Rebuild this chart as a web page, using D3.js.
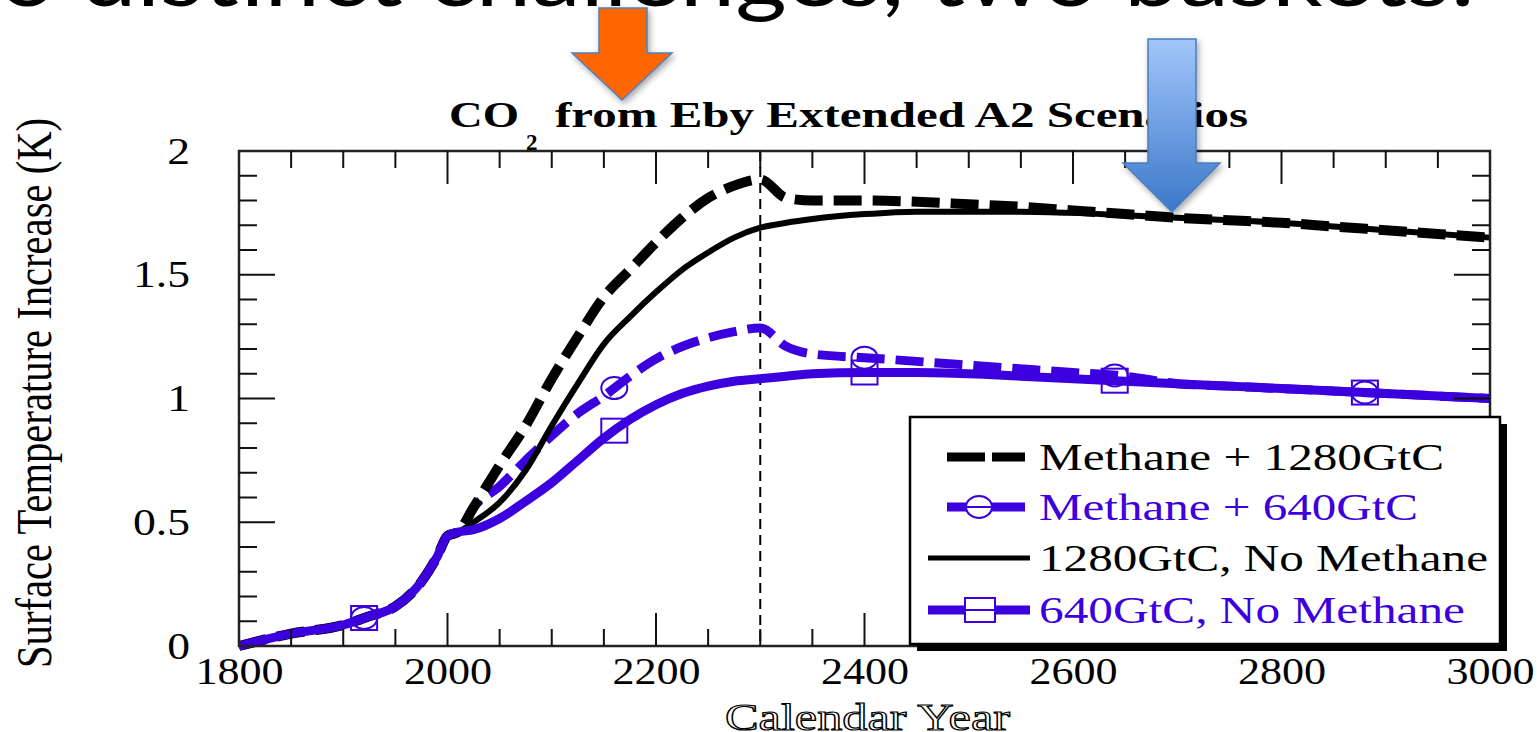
<!DOCTYPE html>
<html>
<head>
<meta charset="utf-8">
<script src="https://cdn.jsdelivr.net/npm/d3@7"></script>
<style>
  body { margin: 0; background: #fff; overflow: hidden; }
  svg { display: block; }
</style>
</head>
<body>
<div id="chart"></div>
<script>
// sampled years (shared by all four runs)
var years = [1800, 1850, 1900, 1925, 1950, 1975, 1990, 2000, 2010, 2025, 2050, 2075,
  2100, 2125, 2150, 2175, 2200, 2225, 2250, 2275, 2300, 2325, 2350, 2400, 2450,
  2500, 2550, 2600, 2650, 2700, 2750, 2800, 2850, 2900, 2950, 3000]

var methane1280 = [0, 0.05, 0.085, 0.12, 0.16, 0.26, 0.36, 0.445, 0.46, 0.56, 0.73, 0.89,
  1.08, 1.25, 1.41, 1.52, 1.63, 1.73, 1.81, 1.86, 1.885, 1.81, 1.80, 1.80, 1.795,
  1.785, 1.775, 1.76, 1.745, 1.73, 1.72, 1.71, 1.695, 1.68, 1.665, 1.65]

var methane640 = [0, 0.05, 0.085, 0.12, 0.16, 0.26, 0.36, 0.445, 0.46, 0.56, 0.645, 0.75,
  0.85, 0.94, 1.01, 1.09, 1.16, 1.21, 1.245, 1.27, 1.285, 1.21, 1.18, 1.165, 1.15,
  1.135, 1.12, 1.105, 1.09, 1.06, 1.05, 1.04, 1.03, 1.02, 1.01, 1.0]

var noMethane1280 = [0, 0.05, 0.085, 0.12, 0.16, 0.26, 0.36, 0.445, 0.46, 0.5, 0.58, 0.71,
  0.89, 1.06, 1.22, 1.33, 1.43, 1.52, 1.59, 1.65, 1.69, 1.71, 1.725, 1.745, 1.755,
  1.755, 1.755, 1.75, 1.74, 1.73, 1.72, 1.71, 1.695, 1.68, 1.665, 1.65]

var noMethane640 = [0, 0.05, 0.085, 0.12, 0.16, 0.26, 0.36, 0.445, 0.46, 0.47, 0.515, 0.585,
  0.66, 0.75, 0.84, 0.915, 0.975, 1.02, 1.05, 1.07, 1.08, 1.09, 1.10, 1.105, 1.105,
  1.10, 1.09, 1.08, 1.07, 1.06, 1.05, 1.04, 1.03, 1.02, 1.01, 1.0]

var markerYears = [1920, 2160, 2400, 2640, 2880]
var xLabels = [1800, 2000, 2200, 2400, 2600, 2800, 3000]
var yLabels = [0, 0.5, 1, 1.5, 2]
var legendNames = ['Methane + 1280GtC', 'Methane + 640GtC', '1280GtC, No Methane', '640GtC, No Methane']

var purple = 'rgb(60, 0, 222)'
var serif = '"Liberation Serif", "Times New Roman", serif'

var w = 1538
var h = 732

var svg = d3.select('#chart')
  .append('svg')
  .attr('width', w)
  .attr('height', h)

var defs = svg.append('defs')
var shadow = defs.append('filter').attr('id', 'shadow')
  .attr('x', '-30%').attr('y', '-30%').attr('width', '160%').attr('height', '160%')
shadow.append('feDropShadow').attr('dx', 2).attr('dy', 3).attr('stdDeviation', 3)
  .attr('flood-color', '#000').attr('flood-opacity', 0.35)
var blueGrad = defs.append('linearGradient').attr('id', 'blueGrad')
  .attr('x1', 0).attr('y1', 0).attr('x2', 0).attr('y2', 1)
blueGrad.append('stop').attr('offset', '0%').attr('stop-color', '#a3c6fb')
blueGrad.append('stop').attr('offset', '100%').attr('stop-color', '#3b78c9')

var x = d3.scaleLinear().domain([1800, 3000]).range([239, 1490])
var y = d3.scaleLinear().domain([0, 2]).range([646, 151])

// stretch text horizontally, like the squashed bitmap in the slide
function stretch (sel, k) {
  sel.each(function () {
    var len = this.getComputedTextLength()
    d3.select(this).attr('textLength', len * k).attr('lengthAdjust', 'spacingAndGlyphs')
  })
}

// slide heading, cut off at the top
svg.append('text')
  .attr('x', -128)
  .attr('y', 6)
  .attr('font-family', 'Lato, "Open Sans", sans-serif')
  .attr('font-size', 86)
  .attr('fill', '#000')
  .attr('textLength', 1603)
  .attr('lengthAdjust', 'spacingAndGlyphs')
  .text('Two distinct challenges, two baskets:')

// title
var title = svg.append('g')
  .attr('font-family', serif)
  .attr('font-weight', 'bold')
  .attr('fill', '#000')
title.append('text').attr('x', 449).attr('y', 127).attr('font-size', 35)
  .attr('textLength', 70).attr('lengthAdjust', 'spacingAndGlyphs').text('CO')
title.append('text').attr('x', 526).attr('y', 150).attr('font-size', 23).text('2')
title.append('text').attr('x', 555).attr('y', 127).attr('font-size', 35)
  .attr('textLength', 693).attr('lengthAdjust', 'spacingAndGlyphs')
  .text('from Eby Extended A2 Scenarios')

var plot = svg.append('g')

// vertical marker at 2300
plot.append('line')
  .attr('x1', x(2300)).attr('x2', x(2300))
  .attr('y1', y(2)).attr('y2', y(0))
  .attr('stroke', '#000')
  .attr('stroke-width', 2)
  .attr('stroke-dasharray', '10,6')

var line = d3.line()
  .x(function (d) { return x(d[0]) })
  .y(function (d) { return y(d[1]) })
  .curve(d3.curveMonotoneX)

function pairs (vals) {
  return years.map(function (yr, i) { return [yr, vals[i]] })
}

function valueAt (vals, yr) {
  var i = d3.bisectRight(years, yr) - 1
  if (i >= years.length - 1) return vals[vals.length - 1]
  var t = (yr - years[i]) / (years[i + 1] - years[i])
  return vals[i] + t * (vals[i + 1] - vals[i])
}

var series = [
  { vals: methane640, color: purple, width: 9, dash: '28,11' },
  { vals: methane1280, color: '#000', width: 10, dash: '28,11' },
  { vals: noMethane1280, color: '#000', width: 6, dash: null },
  { vals: noMethane640, color: purple, width: 9, dash: null }
]

series.forEach(function (s) {
  plot.append('path')
    .attr('d', line(pairs(s.vals)))
    .attr('fill', 'none')
    .attr('stroke', s.color)
    .attr('stroke-width', s.width)
    .attr('stroke-dasharray', s.dash)
})

// markers: circles on methane + 640, squares on 640 no methane
plot.selectAll('.circ')
  .data(markerYears)
  .enter()
  .append('ellipse')
  .attr('cx', function (d) { return x(d) })
  .attr('cy', function (d) { return y(valueAt(methane640, d)) })
  .attr('rx', 13)
  .attr('ry', 11)
  .attr('fill', 'none')
  .attr('stroke', purple)
  .attr('stroke-width', 2)

plot.selectAll('.sq')
  .data(markerYears)
  .enter()
  .append('rect')
  .attr('x', function (d) { return x(d) - 13 })
  .attr('y', function (d) { return y(valueAt(noMethane640, d)) - 12 })
  .attr('width', 26)
  .attr('height', 24)
  .attr('fill', 'none')
  .attr('stroke', purple)
  .attr('stroke-width', 2)

// frame
plot.append('rect')
  .attr('x', x(1800)).attr('y', y(2))
  .attr('width', x(3000) - x(1800)).attr('height', y(0) - y(2))
  .attr('fill', 'none')
  .attr('stroke', '#222')
  .attr('stroke-width', 2.5)

// ticks on all four sides
var xt = d3.range(1850, 3000, 50)
var yt = d3.range(1, 20).map(function (d) { return d / 10 })
var tickG = plot.append('g').attr('stroke', '#111').attr('stroke-width', 2)
xt.forEach(function (v) {
  var len = (v % 200 === 0) ? 33 : 17
  tickG.append('line').attr('x1', x(v)).attr('x2', x(v)).attr('y1', y(0)).attr('y2', y(0) - len)
  tickG.append('line').attr('x1', x(v)).attr('x2', x(v)).attr('y1', y(2)).attr('y2', y(2) + len)
})
yt.forEach(function (v) {
  var len = (Math.round(v * 10) % 5 === 0) ? 36 : 18
  tickG.append('line').attr('x1', x(1800)).attr('x2', x(1800) + len).attr('y1', y(v)).attr('y2', y(v))
  tickG.append('line').attr('x1', x(3000)).attr('x2', x(3000) - len).attr('y1', y(v)).attr('y2', y(v))
})

// tick labels
var xAxis = svg.append('g')
  .attr('transform', 'translate(0,' + y(0) + ')')
  .call(d3.axisBottom(x).tickValues(xLabels).tickSize(0).tickPadding(11).tickFormat(d3.format('d')))
xAxis.select('.domain').remove()
xAxis.selectAll('text')
  .attr('font-family', serif)
  .attr('font-size', 38)
  .attr('fill', '#000')
  .call(stretch, 1.16)

var yAxis = svg.append('g')
  .attr('transform', 'translate(' + x(1800) + ',0)')
  .call(d3.axisLeft(y).tickValues(yLabels).tickSize(0).tickPadding(49).tickFormat(function (d) { return String(d) }))
yAxis.select('.domain').remove()
yAxis.selectAll('text')
  .attr('font-family', serif)
  .attr('font-size', 38)
  .attr('fill', '#000')
  .call(stretch, 1.2)

// axis titles
svg.append('text')
  .attr('transform', 'translate(51,393) scale(1.3,1) rotate(-90)')
  .attr('text-anchor', 'middle')
  .attr('font-family', serif)
  .attr('font-size', 39)
  .attr('textLength', 550)
  .attr('lengthAdjust', 'spacingAndGlyphs')
  .text('Surface Temperature Increase (K)')

svg.append('text')
  .attr('x', 725)
  .attr('y', 730)
  .attr('font-family', serif)
  .attr('font-size', 38)
  .attr('fill', '#fff')
  .attr('stroke', '#000')
  .attr('stroke-width', 1.2)
  .attr('textLength', 285)
  .attr('lengthAdjust', 'spacingAndGlyphs')
  .text('Calendar Year')

// legend
var lg = svg.append('g')
lg.append('rect').attr('x', 917).attr('y', 424).attr('width', 590).attr('height', 227).attr('fill', '#000')
lg.append('rect').attr('x', 910).attr('y', 417).attr('width', 590).attr('height', 227)
  .attr('fill', '#fff').attr('stroke', '#000').attr('stroke-width', 2.5)

var rowY = [457, 507, 558, 610]
var textW = [405, 379, 449, 426]
var rowColor = ['#000', purple, '#000', purple]

// row 1: black dashes
lg.append('line').attr('x1', 947).attr('x2', 1025).attr('y1', rowY[0]).attr('y2', rowY[0])
  .attr('stroke', '#000').attr('stroke-width', 9).attr('stroke-dasharray', '38,7')
// row 2: purple with circle
lg.append('line').attr('x1', 947).attr('x2', 1025).attr('y1', rowY[1]).attr('y2', rowY[1])
  .attr('stroke', purple).attr('stroke-width', 9)
lg.append('ellipse').attr('cx', 979).attr('cy', rowY[1]).attr('rx', 13).attr('ry', 11)
  .attr('fill', '#fff').attr('stroke', purple).attr('stroke-width', 2)
lg.append('line').attr('x1', 966).attr('x2', 992).attr('y1', rowY[1]).attr('y2', rowY[1])
  .attr('stroke', purple).attr('stroke-width', 2)
// row 3: black solid
lg.append('line').attr('x1', 928).attr('x2', 1030).attr('y1', rowY[2]).attr('y2', rowY[2])
  .attr('stroke', '#000').attr('stroke-width', 5)
// row 4: purple with square
lg.append('line').attr('x1', 928).attr('x2', 1030).attr('y1', rowY[3]).attr('y2', rowY[3])
  .attr('stroke', purple).attr('stroke-width', 9)
lg.append('rect').attr('x', 965).attr('y', rowY[3] - 12).attr('width', 30).attr('height', 24)
  .attr('fill', '#fff').attr('stroke', purple).attr('stroke-width', 2)
lg.append('line').attr('x1', 965).attr('x2', 995).attr('y1', rowY[3]).attr('y2', rowY[3])
  .attr('stroke', purple).attr('stroke-width', 2)

lg.selectAll('.lt')
  .data(legendNames)
  .enter()
  .append('text')
  .attr('x', 1039)
  .attr('y', function (d, i) { return rowY[i] })
  .attr('dy', '0.33em')
  .attr('font-family', serif)
  .attr('font-size', 38)
  .attr('fill', function (d, i) { return rowColor[i] })
  .attr('textLength', function (d, i) { return textW[i] })
  .attr('lengthAdjust', 'spacingAndGlyphs')
  .text(function (d) { return d })

// arrows
svg.append('path')
  .attr('d', 'M599,8 L647,8 L647,53 L672,53 L622,100 L572,53 L599,53 Z')
  .attr('fill', '#ff6600')
  .attr('stroke', '#4f81bd')
  .attr('stroke-width', 1.5)
  .attr('filter', 'url(#shadow)')

svg.append('path')
  .attr('d', 'M1148,39 L1196,39 L1196,163 L1220,163 L1172,212 L1123,163 L1148,163 Z')
  .attr('fill', 'url(#blueGrad)')
  .attr('stroke', '#4a7ebb')
  .attr('stroke-width', 1.5)
  .attr('filter', 'url(#shadow)')
</script>
</body>
</html>
